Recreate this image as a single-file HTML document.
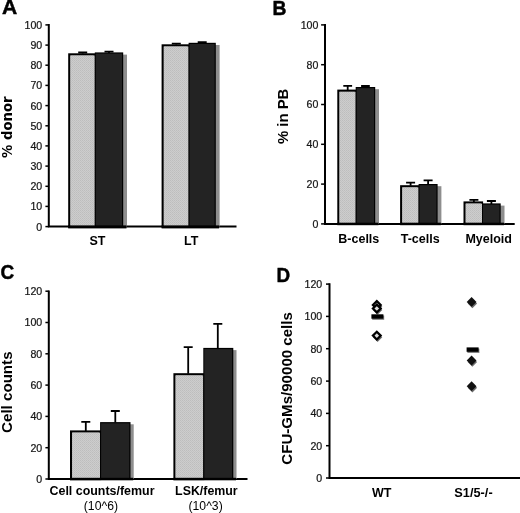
<!DOCTYPE html>
<html><head><meta charset="utf-8"><title>Figure</title>
<style>
html,body{margin:0;padding:0;background:#fff;}
body{width:520px;height:513px;overflow:hidden;}
svg{display:block;font-family:"Liberation Sans", sans-serif;will-change:transform;transform:translateZ(0);-webkit-font-smoothing:antialiased;}
</style></head><body>
<svg width="520" height="513" viewBox="0 0 520 513">
<defs>
<pattern id="dots" width="2" height="2" patternUnits="userSpaceOnUse">
<rect width="2" height="2" fill="#cdcdcd"/><rect width="1" height="1" fill="#bdbdbd"/><rect x="1" y="1" width="1" height="1" fill="#c2c2c2"/>
</pattern>
</defs>
<rect width="520" height="513" fill="#fff"/>
<text transform="translate(1.9 14.2) scale(1.08 1)" font-size="19.5" font-weight="bold" stroke="#000" stroke-width="0.45">A</text>
<path d="M48.8 24.1V226.6H236.5" stroke="#000" stroke-width="2.0" fill="none"/>
<path d="M45.4 226.6H48.8" stroke="#000" stroke-width="1.5"/>
<text x="42.2" y="230.5" font-size="10.6" text-anchor="end" fill="#161616" stroke="#161616" stroke-width="0.22">0</text>
<path d="M45.4 206.4H48.8" stroke="#000" stroke-width="1.5"/>
<text x="42.2" y="210.4" font-size="10.6" text-anchor="end" fill="#161616" stroke="#161616" stroke-width="0.22">10</text>
<path d="M45.4 186.3H48.8" stroke="#000" stroke-width="1.5"/>
<text x="42.2" y="190.2" font-size="10.6" text-anchor="end" fill="#161616" stroke="#161616" stroke-width="0.22">20</text>
<path d="M45.4 166.1H48.8" stroke="#000" stroke-width="1.5"/>
<text x="42.2" y="170.0" font-size="10.6" text-anchor="end" fill="#161616" stroke="#161616" stroke-width="0.22">30</text>
<path d="M45.4 145.9H48.8" stroke="#000" stroke-width="1.5"/>
<text x="42.2" y="149.8" font-size="10.6" text-anchor="end" fill="#161616" stroke="#161616" stroke-width="0.22">40</text>
<path d="M45.4 125.8H48.8" stroke="#000" stroke-width="1.5"/>
<text x="42.2" y="129.7" font-size="10.6" text-anchor="end" fill="#161616" stroke="#161616" stroke-width="0.22">50</text>
<path d="M45.4 105.6H48.8" stroke="#000" stroke-width="1.5"/>
<text x="42.2" y="109.5" font-size="10.6" text-anchor="end" fill="#161616" stroke="#161616" stroke-width="0.22">60</text>
<path d="M45.4 85.4H48.8" stroke="#000" stroke-width="1.5"/>
<text x="42.2" y="89.3" font-size="10.6" text-anchor="end" fill="#161616" stroke="#161616" stroke-width="0.22">70</text>
<path d="M45.4 65.2H48.8" stroke="#000" stroke-width="1.5"/>
<text x="42.2" y="69.2" font-size="10.6" text-anchor="end" fill="#161616" stroke="#161616" stroke-width="0.22">80</text>
<path d="M45.4 45.1H48.8" stroke="#000" stroke-width="1.5"/>
<text x="42.2" y="49.0" font-size="10.6" text-anchor="end" fill="#161616" stroke="#161616" stroke-width="0.22">90</text>
<path d="M45.4 24.9H48.8" stroke="#000" stroke-width="1.5"/>
<text x="42.2" y="28.8" font-size="10.6" text-anchor="end" fill="#161616" stroke="#161616" stroke-width="0.22">100</text>
<rect x="96.8" y="54.6" width="30.2" height="172.0" fill="#8e8e8e"/>
<rect x="69.3" y="54.4" width="25.5" height="172.2" fill="#c9c9c9" stroke="#000" stroke-width="2.2"/>
<rect x="70.4" y="55.5" width="24.4" height="171.1" fill="url(#dots)"/>
<rect x="94.8" y="52.4" width="28.4" height="174.2" fill="#000"/>
<rect x="95.8" y="53.6" width="26.2" height="173.0" fill="#232323"/>
<rect x="68.2" y="225.4" width="58.3" height="3.0" fill="#000"/>
<path d="M82.7 53.8V52.5M78.2 52.5H87.2" stroke="#000" stroke-width="1.8" fill="none"/>
<path d="M109.0 52.9V51.6M104.5 51.6H113.5" stroke="#000" stroke-width="1.8" fill="none"/>
<rect x="190.6" y="45.0" width="29.0" height="181.6" fill="#8e8e8e"/>
<rect x="162.7" y="45.4" width="25.9" height="181.2" fill="#c9c9c9" stroke="#000" stroke-width="2.2"/>
<rect x="163.8" y="46.5" width="24.8" height="180.1" fill="url(#dots)"/>
<rect x="188.6" y="42.8" width="27.2" height="183.8" fill="#000"/>
<rect x="189.6" y="44.0" width="25.0" height="182.6" fill="#232323"/>
<rect x="161.6" y="225.4" width="57.5" height="3.0" fill="#000"/>
<path d="M176.3 44.8V43.7M171.8 43.7H180.8" stroke="#000" stroke-width="1.8" fill="none"/>
<path d="M202.2 43.3V42.1M197.7 42.1H206.7" stroke="#000" stroke-width="1.8" fill="none"/>
<text x="97.5" y="244.7" font-size="12.5" font-weight="bold" text-anchor="middle">ST</text>
<text x="191.2" y="244.7" font-size="12.5" font-weight="bold" text-anchor="middle">LT</text>
<text transform="translate(11.5 127.2) rotate(-90)" font-size="13.3" font-weight="bold" text-anchor="middle" textLength="61.5" lengthAdjust="spacingAndGlyphs" font-family="'DejaVu Sans', sans-serif">% donor</text>
<text transform="translate(272.6 14.5) scale(0.99 1)" font-size="19.5" font-weight="bold" stroke="#000" stroke-width="0.45">B</text>
<path d="M325.0 24.1V223.9H514.7" stroke="#000" stroke-width="2.0" fill="none"/>
<path d="M321.1 223.9H325.0" stroke="#000" stroke-width="1.5"/>
<text x="318.4" y="227.8" font-size="10.6" text-anchor="end" fill="#161616" stroke="#161616" stroke-width="0.22">0</text>
<path d="M321.1 184.1H325.0" stroke="#000" stroke-width="1.5"/>
<text x="318.4" y="188.0" font-size="10.6" text-anchor="end" fill="#161616" stroke="#161616" stroke-width="0.22">20</text>
<path d="M321.1 144.3H325.0" stroke="#000" stroke-width="1.5"/>
<text x="318.4" y="148.2" font-size="10.6" text-anchor="end" fill="#161616" stroke="#161616" stroke-width="0.22">40</text>
<path d="M321.1 104.5H325.0" stroke="#000" stroke-width="1.5"/>
<text x="318.4" y="108.4" font-size="10.6" text-anchor="end" fill="#161616" stroke="#161616" stroke-width="0.22">60</text>
<path d="M321.1 64.7H325.0" stroke="#000" stroke-width="1.5"/>
<text x="318.4" y="68.6" font-size="10.6" text-anchor="end" fill="#161616" stroke="#161616" stroke-width="0.22">80</text>
<path d="M321.1 24.9H325.0" stroke="#000" stroke-width="1.5"/>
<text x="318.4" y="28.8" font-size="10.6" text-anchor="end" fill="#161616" stroke="#161616" stroke-width="0.22">100</text>
<rect x="357.7" y="89.2" width="21.3" height="134.7" fill="#8e8e8e"/>
<rect x="338.4" y="90.7" width="17.3" height="133.2" fill="#c9c9c9" stroke="#000" stroke-width="2.2"/>
<rect x="339.5" y="91.8" width="16.2" height="132.1" fill="url(#dots)"/>
<rect x="355.7" y="87.0" width="19.5" height="136.9" fill="#000"/>
<rect x="356.7" y="88.2" width="17.3" height="135.7" fill="#232323"/>
<rect x="337.3" y="222.7" width="41.2" height="2.5" fill="#000"/>
<path d="M347.7 90.1V85.9M343.3 85.9H352.1" stroke="#000" stroke-width="1.8" fill="none"/>
<path d="M365.4 87.5V86.0M361.1 86.0H369.8" stroke="#000" stroke-width="1.8" fill="none"/>
<rect x="420.6" y="186.2" width="20.8" height="37.7" fill="#8e8e8e"/>
<rect x="401.2" y="186.3" width="17.4" height="37.6" fill="#c9c9c9" stroke="#000" stroke-width="2.2"/>
<rect x="402.3" y="187.4" width="16.3" height="36.5" fill="url(#dots)"/>
<rect x="418.6" y="184.0" width="19.0" height="39.9" fill="#000"/>
<rect x="419.6" y="185.2" width="16.8" height="38.7" fill="#232323"/>
<rect x="400.1" y="222.7" width="40.8" height="2.5" fill="#000"/>
<path d="M410.6 185.7V182.6M406.1 182.6H415.1" stroke="#000" stroke-width="1.8" fill="none"/>
<path d="M428.1 184.5V180.3M423.6 180.3H432.6" stroke="#000" stroke-width="1.8" fill="none"/>
<rect x="484.0" y="205.6" width="20.5" height="18.3" fill="#8e8e8e"/>
<rect x="464.6" y="202.5" width="17.4" height="21.4" fill="#c9c9c9" stroke="#000" stroke-width="2.2"/>
<rect x="465.7" y="203.6" width="16.3" height="20.3" fill="url(#dots)"/>
<rect x="482.0" y="203.4" width="18.7" height="20.5" fill="#000"/>
<rect x="483.0" y="204.6" width="16.5" height="19.3" fill="#232323"/>
<rect x="463.5" y="222.7" width="40.5" height="2.5" fill="#000"/>
<path d="M473.9 201.9V199.8M469.4 199.8H478.4" stroke="#000" stroke-width="1.8" fill="none"/>
<path d="M491.4 203.9V201.0M486.9 201.0H495.9" stroke="#000" stroke-width="1.8" fill="none"/>
<text x="358.8" y="242.6" font-size="12.5" font-weight="bold" text-anchor="middle">B-cells</text>
<text x="420.2" y="242.6" font-size="12.5" font-weight="bold" text-anchor="middle">T-cells</text>
<text x="488.7" y="242.6" font-size="12.5" font-weight="bold" text-anchor="middle">Myeloid</text>
<text transform="translate(287.9 116.4) rotate(-90)" font-size="15.2" font-weight="bold" text-anchor="middle" textLength="55.4" lengthAdjust="spacingAndGlyphs">% in PB</text>
<text transform="translate(0.6 279.4) scale(0.93 1)" font-size="20.4" font-weight="bold" stroke="#000" stroke-width="0.45">C</text>
<path d="M48.8 290.4V479.0H247.5" stroke="#000" stroke-width="2.0" fill="none"/>
<path d="M45.4 479.0H48.8" stroke="#000" stroke-width="1.5"/>
<text x="42.2" y="482.9" font-size="10.6" text-anchor="end" fill="#161616" stroke="#161616" stroke-width="0.22">0</text>
<path d="M45.4 447.7H48.8" stroke="#000" stroke-width="1.5"/>
<text x="42.2" y="451.6" font-size="10.6" text-anchor="end" fill="#161616" stroke="#161616" stroke-width="0.22">20</text>
<path d="M45.4 416.4H48.8" stroke="#000" stroke-width="1.5"/>
<text x="42.2" y="420.3" font-size="10.6" text-anchor="end" fill="#161616" stroke="#161616" stroke-width="0.22">40</text>
<path d="M45.4 385.1H48.8" stroke="#000" stroke-width="1.5"/>
<text x="42.2" y="389.0" font-size="10.6" text-anchor="end" fill="#161616" stroke="#161616" stroke-width="0.22">60</text>
<path d="M45.4 353.8H48.8" stroke="#000" stroke-width="1.5"/>
<text x="42.2" y="357.7" font-size="10.6" text-anchor="end" fill="#161616" stroke="#161616" stroke-width="0.22">80</text>
<path d="M45.4 322.5H48.8" stroke="#000" stroke-width="1.5"/>
<text x="42.2" y="326.4" font-size="10.6" text-anchor="end" fill="#161616" stroke="#161616" stroke-width="0.22">100</text>
<path d="M45.4 291.2H48.8" stroke="#000" stroke-width="1.5"/>
<text x="42.2" y="295.1" font-size="10.6" text-anchor="end" fill="#161616" stroke="#161616" stroke-width="0.22">120</text>
<rect x="102.1" y="424.3" width="31.6" height="54.7" fill="#8e8e8e"/>
<rect x="71.1" y="431.5" width="29.0" height="47.5" fill="#c9c9c9" stroke="#000" stroke-width="2.2"/>
<rect x="72.2" y="432.6" width="27.9" height="46.4" fill="url(#dots)"/>
<rect x="100.1" y="422.1" width="30.4" height="56.9" fill="#000"/>
<rect x="101.1" y="423.3" width="28.2" height="55.7" fill="#232323"/>
<rect x="70.0" y="477.8" width="63.2" height="2.5" fill="#000"/>
<path d="M85.8 430.9V421.9M81.3 421.9H90.3" stroke="#000" stroke-width="1.8" fill="none"/>
<path d="M115.3 422.6V411.0M110.8 411.0H119.8" stroke="#000" stroke-width="1.8" fill="none"/>
<rect x="205.3" y="350.1" width="31.2" height="128.9" fill="#8e8e8e"/>
<rect x="174.5" y="374.3" width="28.8" height="104.7" fill="#c9c9c9" stroke="#000" stroke-width="2.2"/>
<rect x="175.6" y="375.4" width="27.7" height="103.6" fill="url(#dots)"/>
<rect x="203.3" y="347.9" width="30.0" height="131.1" fill="#000"/>
<rect x="204.3" y="349.1" width="27.8" height="129.9" fill="#232323"/>
<rect x="173.4" y="477.8" width="62.6" height="2.5" fill="#000"/>
<path d="M188.2 373.7V347.2M183.7 347.2H192.7" stroke="#000" stroke-width="1.8" fill="none"/>
<path d="M217.8 348.4V323.8M213.3 323.8H222.3" stroke="#000" stroke-width="1.8" fill="none"/>
<text x="102.0" y="495.0" font-size="12.5" font-weight="bold" text-anchor="middle" textLength="105" lengthAdjust="spacingAndGlyphs">Cell counts/femur</text>
<text x="206.4" y="495.0" font-size="12.5" font-weight="bold" text-anchor="middle" textLength="62.6" lengthAdjust="spacingAndGlyphs">LSK/femur</text>
<text x="100.9" y="510.3" font-size="12.3" font-weight="normal" text-anchor="middle" textLength="34.2" lengthAdjust="spacingAndGlyphs">(10^6)</text>
<text x="205.6" y="510.3" font-size="12.3" font-weight="normal" text-anchor="middle" textLength="34.2" lengthAdjust="spacingAndGlyphs">(10^3)</text>
<text transform="translate(11.7 392.2) rotate(-90)" font-size="15.1" font-weight="bold" text-anchor="middle" textLength="81.5" lengthAdjust="spacingAndGlyphs">Cell counts</text>
<text transform="translate(276.4 281.9) scale(0.94 1)" font-size="20.1" font-weight="bold" stroke="#000" stroke-width="0.45">D</text>
<path d="M329.5 283.3V478.0H520" stroke="#000" stroke-width="2.0" fill="none"/>
<path d="M326.0 478.0H329.5" stroke="#000" stroke-width="1.5"/>
<text x="322.2" y="481.9" font-size="10.6" text-anchor="end" fill="#161616" stroke="#161616" stroke-width="0.22">0</text>
<path d="M326.0 445.7H329.5" stroke="#000" stroke-width="1.5"/>
<text x="322.2" y="449.6" font-size="10.6" text-anchor="end" fill="#161616" stroke="#161616" stroke-width="0.22">20</text>
<path d="M326.0 413.4H329.5" stroke="#000" stroke-width="1.5"/>
<text x="322.2" y="417.3" font-size="10.6" text-anchor="end" fill="#161616" stroke="#161616" stroke-width="0.22">40</text>
<path d="M326.0 381.1H329.5" stroke="#000" stroke-width="1.5"/>
<text x="322.2" y="385.0" font-size="10.6" text-anchor="end" fill="#161616" stroke="#161616" stroke-width="0.22">60</text>
<path d="M326.0 348.7H329.5" stroke="#000" stroke-width="1.5"/>
<text x="322.2" y="352.7" font-size="10.6" text-anchor="end" fill="#161616" stroke="#161616" stroke-width="0.22">80</text>
<path d="M326.0 316.4H329.5" stroke="#000" stroke-width="1.5"/>
<text x="322.2" y="320.3" font-size="10.6" text-anchor="end" fill="#161616" stroke="#161616" stroke-width="0.22">100</text>
<path d="M326.0 284.1H329.5" stroke="#000" stroke-width="1.5"/>
<text x="322.2" y="288.0" font-size="10.6" text-anchor="end" fill="#161616" stroke="#161616" stroke-width="0.22">120</text>
<text transform="translate(292.0 388.4) rotate(-90)" font-size="15.2" font-weight="bold" text-anchor="middle" textLength="152.6" lengthAdjust="spacingAndGlyphs">CFU-GMs/90000 cells</text>
<path d="M377.6 302.5L382.3 306.6L377.6 311.3L372.9 306.6Z" fill="#6a6a6a"/>
<path d="M376.8 301.1L380.7 305.0L376.8 308.9L372.9 305.0Z" fill="#dcdcdc" stroke="#000" stroke-width="2.2"/>
<path d="M377.6 306.0L382.3 310.1L377.6 314.8L372.9 310.1Z" fill="#6a6a6a"/>
<path d="M376.8 304.6L380.7 308.5L376.8 312.4L372.9 308.5Z" fill="#dcdcdc" stroke="#000" stroke-width="2.2"/>
<path d="M377.6 333.1L382.3 337.2L377.6 341.9L372.9 337.2Z" fill="#6a6a6a"/>
<path d="M376.8 331.7L380.7 335.6L376.8 339.5L372.9 335.6Z" fill="#dcdcdc" stroke="#000" stroke-width="2.2"/>
<rect x="372.2" y="315.5" width="12" height="4.4" fill="#888"/>
<rect x="371.4" y="314.3" width="12" height="4.4" fill="#000"/>
<path d="M472.4 299.4L477.1 303.5L472.4 308.2L467.7 303.5Z" fill="#6a6a6a"/>
<path d="M471.6 297.0L476.5 301.9L471.6 306.8L466.7 301.9Z" fill="#111"/>
<path d="M472.4 358.0L477.1 362.1L472.4 366.8L467.7 362.1Z" fill="#6a6a6a"/>
<path d="M471.6 355.6L476.5 360.5L471.6 365.4L466.7 360.5Z" fill="#111"/>
<path d="M472.4 383.7L477.1 387.8L472.4 392.5L467.7 387.8Z" fill="#6a6a6a"/>
<path d="M471.6 381.3L476.5 386.2L471.6 391.1L466.7 386.2Z" fill="#111"/>
<rect x="467.4" y="348.6" width="12" height="4.4" fill="#888"/>
<rect x="466.6" y="347.4" width="12" height="4.4" fill="#000"/>
<text x="381.7" y="496.7" font-size="12.5" font-weight="bold" text-anchor="middle">WT</text>
<text x="473.5" y="496.7" font-size="12.5" font-weight="bold" text-anchor="middle" textLength="38.3" lengthAdjust="spacingAndGlyphs">S1/5-/-</text>
</svg>
</body></html>
